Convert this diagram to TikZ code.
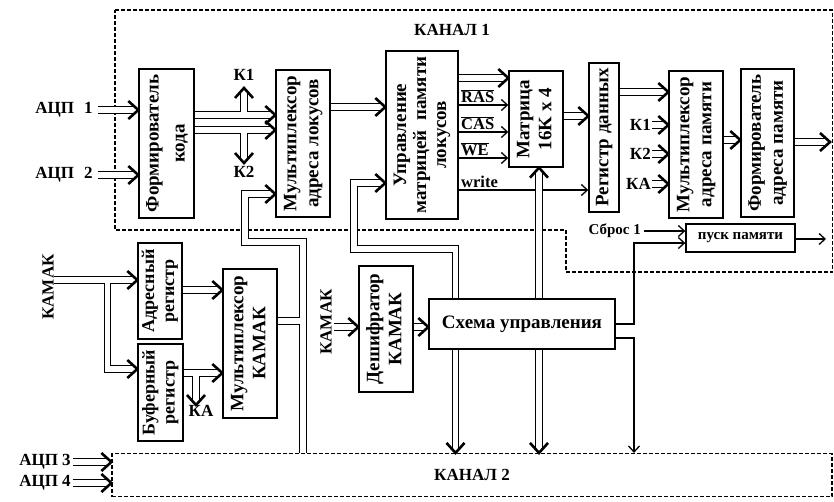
\documentclass[tikz,border=0pt]{standalone}
\usepackage{fontspec}
\setmainfont{Liberation Serif}
\usetikzlibrary{arrows.meta,calc,decorations.markings}
\newcommand{\vtxt}[3]{\rotatebox{90}{\fontsize{#1}{#2}\selectfont\bfseries\begin{tabular}{@{}c@{}}#3\end{tabular}}}
\tikzset{
  box/.style={draw, line width=1.4pt, inner sep=0pt},
  busline/.style={draw, double, double distance=5.5pt, line width=1pt},
  bus/.style={busline, shorten >=2.5pt,
    postaction={decorate, decoration={markings,
      mark=at position 1 with {\pgfsetinnerlinewidth{0pt}\draw[line width=1.3pt, double distance=0pt, shorten >=0pt, shorten <=0pt, line join=miter] (-10pt,9pt) -- (0pt,0pt) -- (-10pt,-9pt);}}}},
  sig/.style={draw, line width=1.1pt, -{Straight Barb[length=6pt,width=11pt,line width=1.3pt]}},
  lbl/.style={font=\fontsize{17}{20}\selectfont\bfseries, inner sep=0pt},
  slbl/.style={font=\fontsize{15}{18}\selectfont\bfseries, inner sep=0pt},
  tlbl/.style={font=\fontsize{16.5}{18}\selectfont\bfseries, inner sep=0pt},
  chline/.style={draw, line width=1.2pt, dash pattern=on 4pt off 2pt},
}
\begin{document}
\begin{tikzpicture}[x=1pt,y=-1pt]
\useasboundingbox (0,0) rectangle (834,501);

% channel 1 frame
\draw[chline] (115,10) -- (832.5,10) -- (832.5,272) -- (566,272) -- (566,230) -- (115,230) -- cycle;
\node[lbl] (ch1lbl) at (452,30) {КАНАЛ 1};

% channel 2 frame
\node[chline, lbl, minimum width=720pt, minimum height=43pt] (ch2) at (472,475) {КАНАЛ 2};

% boxes
\node[box, minimum width=55pt, minimum height=149pt] (fk) at (166.5,143.5) {\vtxt{19}{26}{Формирователь\\кода}};
\node[box, minimum width=54pt, minimum height=147pt] (mxl) at (303,143.5) {\vtxt{19}{22}{Мультиплексор\\адреса локусов}};
\node[box, minimum width=72pt, minimum height=168pt] (upr) at (422,135) {\vtxt{19}{20}{Управление\\матрицей\ \ памяти\\локусов}};
\node[box, minimum width=54pt, minimum height=96pt] (mat) at (536,119) {\vtxt{19}{22}{Матрица\\16K x 4}};
\node[box, minimum width=30pt, minimum height=149pt] (reg) at (604,137.5) {\vtxt{19}{22}{Регистр данных}};
\node[box, minimum width=54pt, minimum height=147pt] (mxp) at (696,144.5) {\vtxt{19}{22}{Мультиплексор\\адреса памяти}};
\node[box, minimum width=53pt, minimum height=148pt] (fap) at (767.5,143) {\vtxt{19}{22}{Формирователь\\адреса памяти}};
\node[box, minimum width=109pt, minimum height=28pt, slbl] (pusk) at (740.5,238) {пуск памяти};
\node[box, minimum width=44pt, minimum height=96pt] (adr) at (160,291) {\vtxt{18}{20}{Адресный\\регистр}};
\node[box, minimum width=45pt, minimum height=97pt] (buf) at (160.5,392.5) {\vtxt{18}{20}{Буферный\\регистр}};
\node[box, minimum width=54pt, minimum height=149pt] (mxk) at (250,343.5) {\vtxt{19}{22}{Мультиплексор\\КАМАК}};
\node[box, minimum width=54pt, minimum height=126pt] (desh) at (386,329) {\vtxt{19}{22}{Дешифратор\\КАМАК}};
\node[box, minimum width=186pt, minimum height=50pt, font=\fontsize{19}{22}\selectfont\bfseries] (sch) at (522,324) {Схема управления};

% labels
\node[lbl] (adc1) at (64,110) {АЦП\,\, 1};
\node[lbl] (adc2) at (64,175) {АЦП\,\, 2};
\node[lbl] (adc3) at (45,462) {АЦП 3};
\node[lbl] (adc4) at (45,483) {АЦП 4};
\node[lbl, anchor=south] (k1a) at (244,81) {К1};
\node[lbl, anchor=north] (k2a) at (244,166) {К2};
\node[lbl, anchor=east] (k1b) at (651,125) {К1};
\node[lbl, anchor=east] (k2b) at (651,154) {К2};
\node[lbl, anchor=east] (kab) at (651,184) {КА};
\node[slbl, anchor=east] (sbr) at (641,231) {Сброс 1};
\node[lbl, rotate=90] (kam1) at (48,287) {КАМАК};
\node[lbl, rotate=90] (kam2) at (326,322) {КАМАК};
\node[lbl, anchor=north] (kac) at (201,405) {КА};
\node[tlbl, anchor=south west] (ras) at (461,103) {$\overline{\mbox{RAS}}$};
\node[tlbl, anchor=south west] (cas) at (461,130) {$\overline{\mbox{CAS}}$};
\node[tlbl, anchor=south west] (we) at (461,156) {$\overline{\mbox{WE}}$};
\node[tlbl, anchor=south west] (wr) at (461,188) {write};

% row / column coordinates
\coordinate (ba) at (0,115);
\coordinate (bb) at (0,130);
\coordinate (r107) at (0,107);
\coordinate (s0) at (0,78);
\coordinate (s1) at (0,105);
\coordinate (s2) at (0,132);
\coordinate (s3) at (0,158);
\coordinate (s4) at (0,190);
\coordinate (m116) at (0,116);
\coordinate (m92) at (0,92);
\coordinate (m140) at (0,140);
\coordinate (o1) at (830,142);
\coordinate (o2) at (826,239);
\coordinate (c243) at (0,243);
\coordinate (c338) at (0,338);
\coordinate (jx) at (634,0);
\coordinate (u1) at (455.5,249);
\coordinate (u2) at (354,249);
\coordinate (u3) at (354,183);
\coordinate (xm) at (539,0);
\coordinate (v1) at (303,242);
\coordinate (v2) at (245,242);
\coordinate (v3) at (245,194);
\coordinate (c321) at (0,321);
\coordinate (c280) at (0,280);
\coordinate (kb) at (107.5,369);
\coordinate (c290) at (0,290);
\coordinate (c373) at (0,373);
\coordinate (kax) at (196,0);
\coordinate (c327) at (0,327);

% ADC inputs
\draw[bus] ([xshift=5pt]adc1.east) -- (fk.west |- adc1);
\draw[bus] ([xshift=5pt]adc2.east) -- (fk.west |- adc2);
\draw[bus] ([xshift=2pt]adc3.east) -- (ch2.west |- adc3);
\draw[bus] ([xshift=2pt]adc4.east) -- (ch2.west |- adc4);

% code former -> locus mux
\draw[bus] (fk.east |- ba) -- (mxl.west |- ba);
\draw[bus] (fk.east |- bb) -- (mxl.west |- bb);
\draw[bus] ($(k1a |- ba)+(0,-2.75)$) -- ([yshift=-7pt]k1a.south);
\draw[bus] ($(k2a |- bb)+(0,2.75)$) -- ([yshift=3pt]k2a.north);

% locus mux -> control
\draw[bus] (mxl.east |- r107) -- (upr.west |- r107);

% control -> matrix
\draw[bus] (upr.east |- s0) -- (mat.west |- s0);
\draw[sig] (upr.east |- s1) -- (mat.west |- s1);
\draw[sig] (upr.east |- s2) -- (mat.west |- s2);
\draw[sig] (upr.east |- s3) -- (mat.west |- s3);
\draw[sig] (upr.east |- s4) -- (reg.west |- s4);

% matrix -> register -> mux -> former
\draw[bus] (mat.east |- m116) -- (reg.west |- m116);
\draw[bus] (reg.east |- m92) -- (mxp.west |- m92);
\draw[bus] ([xshift=1pt]k1b.east) -- (mxp.west |- k1b);
\draw[bus] ([xshift=1pt]k2b.east) -- (mxp.west |- k2b);
\draw[bus] ([xshift=1pt]kab.east) -- (mxp.west |- kab);
\draw[bus] (mxp.east |- m140) -- (fap.west |- m140);
\draw[bus] (fap.east |- o1) -- (o1);

% start memory
\draw[sig] ([xshift=3pt]sbr.east) -- (pusk.west |- sbr);
\draw[sig] (pusk.east |- o2) -- (o2);
\draw[sig] (sch.east) -- (jx |- sch.east) -- (jx |- c243) -- (pusk.west |- c243);
\draw[sig] (sch.east |- c338) -- (jx |- c338) -- (jx |- ch2.north);

% control scheme buses
\draw[bus] (sch.north -| u1) -- (u1) -- (u2) -- (u3) -- (upr.west |- u3);
\draw[bus] (sch.south -| u1) -- (ch2.north -| u1);
\draw[bus] (sch.south -| xm) -- (ch2.north -| xm);
\draw[bus] (sch.north -| xm) -- (mat.south -| xm);

% KAMAK mux -> locus mux and channel 2
\draw[bus] (ch2.north -| v1) -- (v1) -- (v2) -- (v3) -- (mxl.west |- v3);
\draw[busline] (mxk.east |- c321) -- ($(v1 |- c321)+(-2.75,0)$);

% KAMAK input
\draw[bus] (kam1.south |- c280) -- (adr.west |- c280);
\draw[bus] ($(kb |- c280)+(0,2.75)$) -- (kb) -- (buf.west |- kb);
\draw[bus] (adr.east |- c290) -- (mxk.west |- c290);
\draw[bus] (buf.east |- c373) -- (mxk.west |- c373);
\draw[bus] ($(kax |- c373)+(0,2.75)$) -- (kax |- kac.north);

% KAMAK decoder
\draw[bus] ([xshift=2pt]kam2.south |- c327) -- (desh.west |- c327);
\draw[bus] (desh.east |- c327) -- (sch.west |- c327);
\end{tikzpicture}
\end{document}
